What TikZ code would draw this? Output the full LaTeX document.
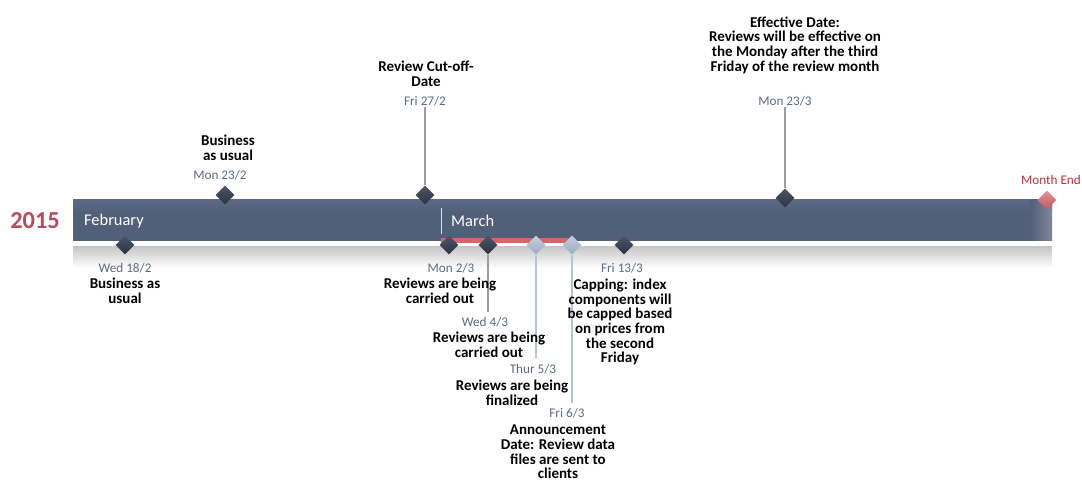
\documentclass[tikz,border=0pt]{standalone}
\usepackage{fontspec}
\setmainfont{Carlito}
\usetikzlibrary{shapes.geometric}
\definecolor{barcol}{HTML}{525F79}
\definecolor{bartop}{HTML}{5C6984}
\definecolor{datecol}{HTML}{5B6B86}
\definecolor{yearcol}{HTML}{B84A5C}
\definecolor{endcol}{HTML}{C0303A}
\definecolor{dia}{HTML}{2C3441}
\definecolor{diatop}{HTML}{4A5566}
\definecolor{lightdia}{HTML}{9AAAC6}
\definecolor{lightdiatop}{HTML}{C3CEE0}
\definecolor{stripcol}{HTML}{D9636B}
\definecolor{stemcol}{HTML}{9C9C9C}
\definecolor{lightstem}{HTML}{B9C3D6}
\tikzset{
  msdia/.style={diamond, minimum width=19pt, minimum height=19pt, inner sep=0pt, top color=diatop, bottom color=dia, draw=none},
  lightmsdia/.style={diamond, minimum width=19pt, minimum height=19pt, inner sep=0pt, top color=lightdiatop, bottom color=lightdia, draw=none},
  enddia/.style={diamond, minimum width=19pt, minimum height=19pt, inner sep=0pt, top color=stripcol!70!white, bottom color=stripcol!90!black, draw=none},
  datelbl/.style={text=datecol, font=\fontsize{13.2}{15}\selectfont, inner sep=1pt},
  desc/.style={align=center, font=\fontsize{15}{14.7}\selectfont\bfseries, inner sep=1pt},
  stem/.style={draw=stemcol, line width=1.3pt},
  lightstem/.style={draw=lightstem, line width=1.3pt},
  monthlbl/.style={text=white, font=\fontsize{16.4}{18}\selectfont, anchor=west, inner sep=0pt}
}
\begin{document}
\begin{tikzpicture}[x=1pt,y=-1pt]
\useasboundingbox (0,0) rectangle (1082,481);
% lower gradient band
\fill[top color=black!22, bottom color=white, draw=none] (73,247) rectangle (1052,268);
% main bar
\fill[barcol] (73,200) rectangle (1052,241);
\fill[top color=bartop, bottom color=barcol] (73,200) rectangle (1052,212);
\fill[left color=barcol, right color=barcol!75!white] (1030,200) -- (1052,200) -- (1052,241) -- (1030,241) -- cycle;
% month separator
\draw[white!80!barcol, line width=1pt] (441,208) -- (441,234);
% red strip
\fill[stripcol] (441,238.5) rectangle (572,243);
% year and months
\node[text=yearcol, font=\fontsize{24.4}{26}\selectfont\bfseries] (year) at (35,221) {2015};
\node[monthlbl] (feb) at (84,221) {February};
\node[monthlbl] (mar) at (451,221) {March};

% ---- top milestones ----
\node[desc] (t1) at (228,148) {Business\\as usual};
\node[datelbl] (d1) at (220,175) {Mon 23/2};
\node[msdia] (m1) at (225,195) {};

\node[desc] (t2) at (426,74) {Review Cut-off-\\Date};
\node[datelbl] (d2) at (425,101) {Fri 27/2};
\node[msdia] (m2) at (425,195) {};
\draw[stem] (d2.south) -- (m2.north);

\node[desc] (t3) at (795,45) {Effective Date:\\Reviews will be effective on\\the Monday after the third\\Friday of the review month};
\node[datelbl] (d3) at (785,101) {Mon 23/3};
\node[msdia] (m3) at (785,198) {};
\draw[stem] (d3.south) -- (m3.north);

\node[text=endcol, font=\fontsize{13.2}{15}\selectfont, inner sep=1pt] (d4) at (1051,180) {Month End};
\node[enddia] (m4) at (1047,200) {};

% ---- bottom milestones ----
\node[msdia] (b1) at (125,245) {};
\node[datelbl] (bd1) at (125,268) {Wed 18/2};
\node[desc] (bt1) at (125,291) {Business as\\usual};

\node[datelbl] (bd5) at (485,322) {Wed 4/3};
\node[datelbl] (bd6) at (533,369) {Thur 5/3};
\node[datelbl] (bd7) at (567,413) {Fri 6/3};
\coordinate (e5) at (488,312);
\coordinate (e6) at (536,358);
\coordinate (e7) at (572,403);

\node[msdia] (b2) at (449,245) {};
\node[msdia] (b5) at (488,245) {};
\node[lightmsdia] (b6) at (536,245) {};
\node[lightmsdia] (b7) at (572,245) {};
\node[msdia] (b8) at (624,245) {};

\draw[stem] (b5.south) -- (e5);
\draw[lightstem] (b6.south) -- (e6);
\draw[lightstem] (b7.south) -- (e7);

\node[datelbl] (bd2) at (451,268) {Mon 2/3};
\node[desc] (bt2) at (440,291) {Reviews are being\\carried out};

\node[desc] (bt5) at (489,345) {Reviews are being\\carried out};
\node[desc] (bt6) at (512,393) {Reviews are being\\finalized};
\node[desc] (bt7) at (558,452) {Announcement\\Date: Review data\\files are sent to\\clients};

\node[datelbl] (bd8) at (622,268) {Fri 13/3};
\node[desc] (bt8) at (620,322) {Capping: index\\components will\\be capped based\\on prices from\\the second\\Friday};
\end{tikzpicture}
\end{document}
